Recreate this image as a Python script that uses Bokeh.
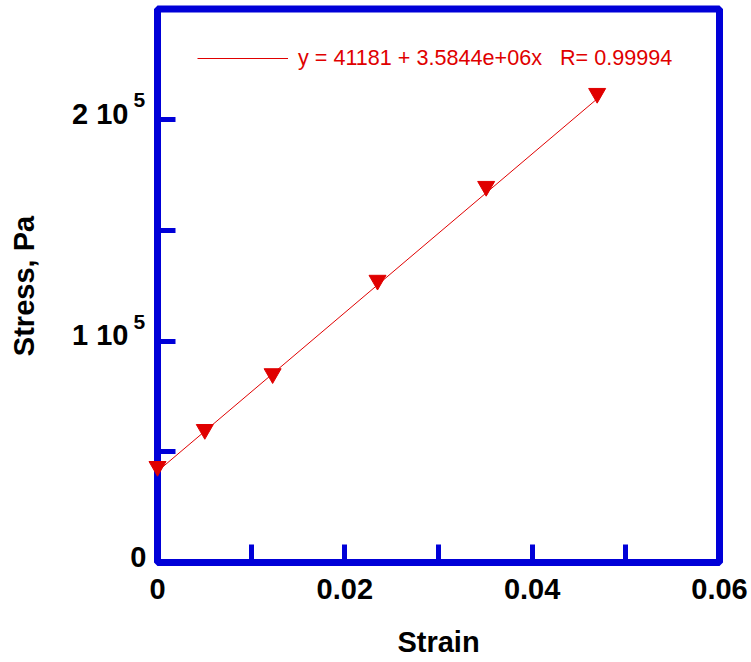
from bokeh.plotting import figure
from bokeh.models import (FixedTicker, Legend, LegendItem, Range1d,
                          ColumnDataSource, BoxAnnotation, Label)
from bokeh.embed import file_html
from bokeh.resources import INLINE

# ---- data ----
strain = [0.0, 0.00505, 0.01229, 0.02349, 0.03509, 0.04694]
stress = [43400, 60100, 85300, 127500, 169900, 211900]
fit_strain = [0.0, 0.04694]
fit_stress = [41181, 209430]
fit_label = "y = 41181 + 3.5844e+06x\u00a0\u00a0\u00a0R= 0.99994"

x_lim = [0.0, 0.06]
y_lim = [0.0, 250000.0]
x_ticks = [0.0, 0.02, 0.04, 0.06]
x_minor = [0.01, 0.03, 0.05]
x_labels = ["0", "0.02", "0.04", "0.06"]
y_ticks = [0.0, 100000.0, 200000.0]
y_minor = [50000.0, 150000.0]
y_labels = ["0", "1 10", "2 10"]
y_sup = ["", "5", "5"]

BLUE = "#0000d8"
RED = "#e00000"
FONT = "Liberation Sans"

# ---- layout (pixel targets of the plot box inside the canvas) ----
W, H = 751, 662
BOX_L, BOX_R, BOX_T, BOX_B = 157.0, 719.0, 8.5, 562.0
kx = (x_lim[1] - x_lim[0]) / (BOX_R - BOX_L)
ky = (y_lim[1] - y_lim[0]) / (BOX_B - BOX_T)
xr = Range1d(x_lim[0] - BOX_L * kx, x_lim[0] - BOX_L * kx + W * kx)
yr = Range1d(y_lim[1] + BOX_T * ky - H * ky, y_lim[1] + BOX_T * ky)

p = figure(width=W, height=H, output_backend="svg", toolbar_location=None,
           x_range=xr, y_range=yr,
           min_border_left=0, min_border_right=0, min_border_top=0,
           min_border_bottom=0)
p.background_fill_color = "white"
p.border_fill_color = "white"
p.grid.visible = False
p.outline_line_color = None

box = BoxAnnotation(left=x_lim[0], right=x_lim[1], bottom=y_lim[0], top=y_lim[1],
                    fill_color=None, fill_alpha=0, line_color=BLUE,
                    line_alpha=1.0, line_width=7, level="underlay")
p.add_layout(box)

src = ColumnDataSource(dict(x=strain, y=stress))
fit_src = ColumnDataSource(dict(x=fit_strain, y=fit_stress))

fit_r = p.line("x", "y", source=fit_src, line_color=RED, line_width=1)
p.scatter("x", "y", source=src, marker="inverted_triangle", size=17,
          fill_color=RED, line_color=RED, line_width=1)

xa, ya = p.xaxis[0], p.yaxis[0]
xa.fixed_location = y_lim[0]
ya.fixed_location = x_lim[0]
xa.bounds = (x_lim[0], x_lim[1])
ya.bounds = (y_lim[0], y_lim[1])
for ax in (xa, ya):
    ax.axis_line_color = None
    ax.major_tick_line_color = BLUE
    ax.major_tick_line_width = 5
    ax.minor_tick_line_color = BLUE
    ax.minor_tick_line_width = 5
    ax.major_tick_in = 18
    ax.major_tick_out = 0
    ax.minor_tick_in = 18
    ax.minor_tick_out = 0
    ax.major_label_text_font = FONT
    ax.major_label_text_font_style = "bold"
    ax.major_label_text_font_size = "29px"
    ax.major_label_text_color = "black"
    ax.axis_label_text_font = FONT
    ax.axis_label_text_font_style = "bold"
    ax.axis_label_text_font_size = "29px"
    ax.axis_label_text_color = "black"

xa.ticker = FixedTicker(ticks=x_ticks, minor_ticks=x_minor)
ya.ticker = FixedTicker(ticks=y_ticks, minor_ticks=y_minor)
xa.major_label_overrides = {t: l for t, l in zip(x_ticks, x_labels)}
# y tick labels are drawn as labels below (they sit slightly above their ticks)
ya.major_label_overrides = {t: "" for t in y_ticks}
xa.major_label_standoff = 16
ya.major_label_standoff = 15
xa.axis_label = "Strain"
ya.axis_label = "Stress, Pa"
xa.axis_label_standoff = 24
ya.axis_label_standoff = 118

for t, s, txt in zip(y_ticks, y_sup, y_labels):
    right = 128 if s else 146
    p.add_layout(Label(x=right, y=t, x_units="screen", y_units="data",
                       y_offset=6, text=txt, text_font=FONT,
                       text_font_style="bold", text_font_size="29px",
                       text_color="black", text_align="right",
                       text_baseline="middle"))
    if s:
        p.add_layout(Label(x=133, y=t, x_units="screen", y_units="data",
                           y_offset=19.5, text=s, text_font=FONT,
                           text_font_style="bold", text_font_size="21px",
                           text_color="black", text_align="left",
                           text_baseline="middle"))

legend = Legend(items=[LegendItem(label=fit_label, renderers=[fit_r])],
                location=(197, 591), padding=0, margin=0,
                glyph_width=91, glyph_height=26, label_height=26,
                label_standoff=10, background_fill_alpha=0,
                border_line_color=None,
                label_text_font=FONT, label_text_font_size="21.6px",
                label_text_color=RED)
p.add_layout(legend, "center")

open("out.html", "w").write(file_html(p, INLINE))
